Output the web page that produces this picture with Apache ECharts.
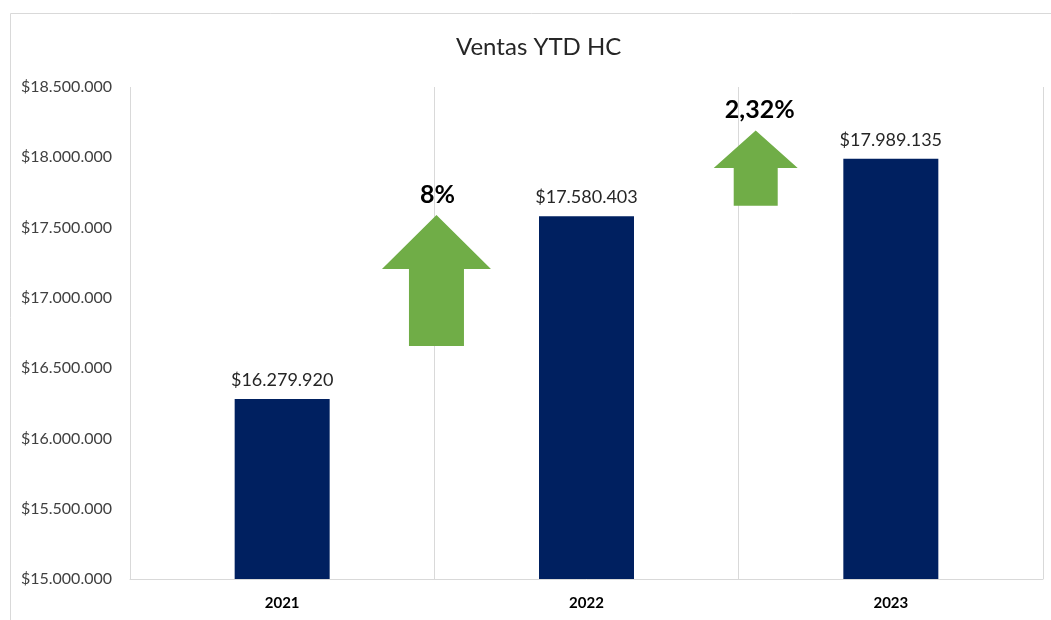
<!DOCTYPE html>
<html>
<head>
<meta charset="utf-8">
<script src="https://cdn.jsdelivr.net/npm/echarts@6/dist/echarts.min.js"></script>
<style>
    html, body { margin: 0; padding: 0; background: #fff; }
    #chart { width: 1051px; height: 620px; }
</style>
</head>
<body>
<div id="chart"></div>
<script>
// datos
const years = ['2021', '2022', '2023'];
const ventas = [16279920, 17580403, 17989135];
const yTicks = [15000000, 18500000, 500000]; // min, max, paso

// flechas de variacion: posicion x (en categorias), base, inicio de punta, punta
const arrowLabels = ['8%', '2,32%'];
const arrowX = [1.007, 2.056];
const arrowBase = [16658000, 17656000];
const arrowHead = [17205000, 17924000];
const arrowTip = [17589000, 18190000];

function money(v) {
    return '$' + String(Math.round(v)).replace(/\B(?=(\d{3})+(?!\d))/g, '.');
}

const chart = echarts.init(document.getElementById('chart'));
const font = 'Lato, "Open Sans", sans-serif';
const arrowSize = [[109, 55], [84, 44]]; // ancho punta, ancho cuerpo (px)

const option = {
    animation: false,
    title: {
        text: 'Ventas YTD HC',
        left: 451,
        top: 30,
        textStyle: { fontFamily: font, fontSize: 24, fontWeight: 'normal', color: '#262626' }
    },
    graphic: [{
        type: 'rect',
        shape: { x: 10.5, y: 13.5, width: 1100, height: 700 },
        style: { fill: null, stroke: '#d9d9d9', lineWidth: 1 },
        silent: true
    }],
    grid: { left: 130, right: 8, top: 87, bottom: 41 },
    xAxis: [{
        type: 'category',
        data: years,
        axisLine: { lineStyle: { color: '#d9d9d9' } },
        axisTick: { show: false },
        splitLine: { show: true, lineStyle: { color: '#d9d9d9' } },
        axisLabel: { fontFamily: font, fontSize: 15, fontWeight: 'bold', color: '#000', margin: 17 }
    }, {
        type: 'value',
        min: 0,
        max: 3,
        show: false
    }],
    yAxis: {
        type: 'value',
        min: yTicks[0],
        max: yTicks[1],
        interval: yTicks[2],
        axisLine: { show: false },
        axisTick: { show: false },
        splitLine: { show: false },
        axisLabel: {
            fontFamily: font, fontSize: 16, color: '#404040', margin: 18,
            formatter: money
        }
    },
    series: [{
        type: 'bar',
        data: ventas,
        barWidth: 95,
        itemStyle: { color: '#002060' },
        label: {
            show: true,
            position: 'top',
            distance: 10,
            fontFamily: font,
            fontSize: 18,
            color: '#262626',
            formatter: function (p) { return money(p.value); }
        }
    }, {
        type: 'custom',
        xAxisIndex: 1,
        data: arrowX.map(function (x, i) {
            return [x, arrowBase[i], arrowHead[i], arrowTip[i]];
        }),
        renderItem: function (params, api) {
            const i = params.dataIndex;
            const base = api.coord([api.value(0), api.value(1)]);
            const head = api.coord([api.value(0), api.value(2)]);
            const tip = api.coord([api.value(0), api.value(3)]);
            const hw = arrowSize[i][0] / 2;
            const sw = arrowSize[i][1] / 2;
            const cx = tip[0];
            return {
                type: 'group',
                children: [{
                    type: 'polygon',
                    shape: {
                        points: [
                            [cx, tip[1]],
                            [cx + hw, head[1]],
                            [cx + sw, head[1]],
                            [cx + sw, base[1]],
                            [cx - sw, base[1]],
                            [cx - sw, head[1]],
                            [cx - hw, head[1]]
                        ]
                    },
                    style: { fill: '#70ad47' }
                }, {
                    type: 'text',
                    x: cx + (i === 1 ? 4 : 1),
                    y: tip[1] - 8,
                    style: {
                        text: arrowLabels[i],
                        fontFamily: font,
                        fontSize: 25,
                        fontWeight: 'bold',
                        fill: '#000',
                        align: 'center',
                        verticalAlign: 'bottom'
                    }
                }]
            };
        }
    }]
};
chart.setOption(option);
</script>
</body>
</html>
